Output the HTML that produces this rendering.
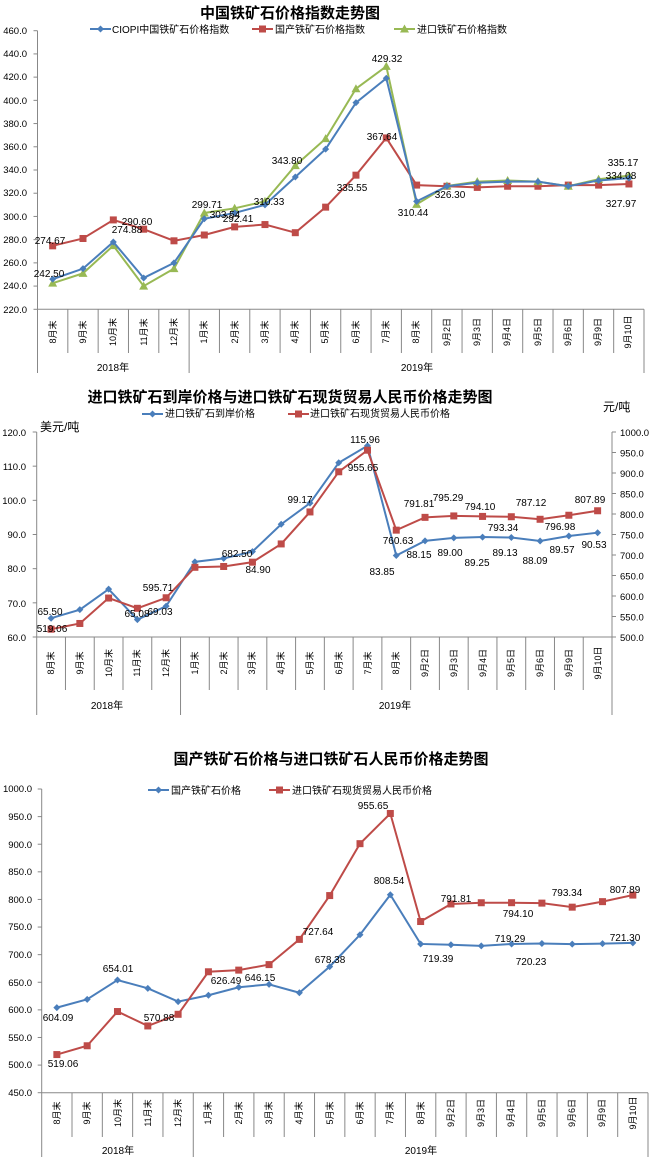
<!DOCTYPE html>
<html><head><meta charset="utf-8"><style>
body{margin:0;background:#fff}
svg{display:block;font-family:"Liberation Sans","Noto Sans CJK SC",sans-serif}
.t{font-weight:bold;font-size:15px;text-anchor:middle}
.lg{font-size:10px}
.yl{font-size:9.5px;text-anchor:end}
.yr{font-size:9.5px;text-anchor:start}
.c text{font-size:9px;text-anchor:middle}
.d{font-size:10px;text-anchor:middle}
.yr2{font-size:10px;text-anchor:middle}
</style></head><body>
<svg id="s" width="650" height="1165" viewBox="0 0 650 1165">
<g id="g"></g>
<!-- Chart 1 -->
<text class="t" x="290" y="18">中国铁矿石价格指数走势图</text>
<text class="lg" x="112" y="33">CIOPI中国铁矿石价格指数</text>
<text class="lg" x="275" y="33">国产铁矿石价格指数</text>
<text class="lg" x="417" y="33">进口铁矿石价格指数</text>
<g class="yl"><text x="27" y="34">460.0</text><text x="27" y="57">440.0</text><text x="27" y="80">420.0</text><text x="27" y="104">400.0</text><text x="27" y="127">380.0</text><text x="27" y="150">360.0</text><text x="27" y="173">340.0</text><text x="27" y="196">320.0</text><text x="27" y="220">300.0</text><text x="27" y="243">280.0</text><text x="27" y="266">260.0</text><text x="27" y="289">240.0</text><text x="27" y="313">220.0</text></g>
<g class="c">
<text transform="translate(56,332) rotate(-90)">8月末</text><text transform="translate(86,332) rotate(-90)">9月末</text><text transform="translate(116,332) rotate(-90)">10月末</text><text transform="translate(147,332) rotate(-90)">11月末</text><text transform="translate(177,332) rotate(-90)">12月末</text><text transform="translate(207,332) rotate(-90)">1月末</text><text transform="translate(238,332) rotate(-90)">2月末</text><text transform="translate(268,332) rotate(-90)">3月末</text><text transform="translate(298,332) rotate(-90)">4月末</text><text transform="translate(328,332) rotate(-90)">5月末</text><text transform="translate(359,332) rotate(-90)">6月末</text><text transform="translate(389,332) rotate(-90)">7月末</text><text transform="translate(419,332) rotate(-90)">8月末</text><text transform="translate(450,332) rotate(-90)">9月2日</text><text transform="translate(480,332) rotate(-90)">9月3日</text><text transform="translate(510,332) rotate(-90)">9月4日</text><text transform="translate(541,332) rotate(-90)">9月5日</text><text transform="translate(571,332) rotate(-90)">9月6日</text><text transform="translate(601,332) rotate(-90)">9月9日</text><text transform="translate(631,332) rotate(-90)">9月10日</text></g>
<text class="yr2" x="113" y="371">2018年</text><text class="yr2" x="417" y="371">2019年</text>
<g class="d">
<text x="50" y="244">274.67</text><text x="49" y="277">242.50</text><text x="137" y="225">290.60</text><text x="127" y="233">274.88</text><text x="207" y="208">299.71</text><text x="225" y="218">303.54</text><text x="238" y="222">292.41</text><text x="269" y="205">310.33</text><text x="287" y="164">343.80</text><text x="352" y="191">335.55</text><text x="382" y="140">367.64</text><text x="387" y="62">429.32</text><text x="413" y="216">310.44</text><text x="450" y="198">326.30</text><text x="623" y="166">335.17</text><text x="621" y="179">334.08</text><text x="621" y="207">327.97</text></g>
<!-- Chart 2 -->
<text class="t" x="290" y="402">进口铁矿石到岸价格与进口铁矿石现货贸易人民币价格走势图</text>
<text class="lg" x="165" y="417">进口铁矿石到岸价格</text>
<text class="lg" x="310" y="417">进口铁矿石现货贸易人民币价格</text>
<text x="40" y="431" style="font-size:12px">美元/吨</text>
<text x="603" y="411" style="font-size:12px">元/吨</text>
<g class="yl"><text x="26" y="436">120.0</text><text x="26" y="470">110.0</text><text x="26" y="504">100.0</text><text x="26" y="538">90.0</text><text x="26" y="572">80.0</text><text x="26" y="607">70.0</text><text x="26" y="641">60.0</text></g>
<g class="yr"><text x="620" y="436">1000.0</text><text x="620" y="456.5">950.0</text><text x="620" y="477">900.0</text><text x="620" y="497.5">850.0</text><text x="620" y="518">800.0</text><text x="620" y="538.5">750.0</text><text x="620" y="559">700.0</text><text x="620" y="579.5">650.0</text><text x="620" y="600">600.0</text><text x="620" y="620.5">550.0</text><text x="620" y="641">500.0</text></g>
<g class="c">
<text transform="translate(54,663) rotate(-90)">8月末</text><text transform="translate(83,663) rotate(-90)">9月末</text><text transform="translate(112,663) rotate(-90)">10月末</text><text transform="translate(140,663) rotate(-90)">11月末</text><text transform="translate(169,663) rotate(-90)">12月末</text><text transform="translate(198,663) rotate(-90)">1月末</text><text transform="translate(227,663) rotate(-90)">2月末</text><text transform="translate(255,663) rotate(-90)">3月末</text><text transform="translate(284,663) rotate(-90)">4月末</text><text transform="translate(313,663) rotate(-90)">5月末</text><text transform="translate(342,663) rotate(-90)">6月末</text><text transform="translate(371,663) rotate(-90)">7月末</text><text transform="translate(399,663) rotate(-90)">8月末</text><text transform="translate(428,663) rotate(-90)">9月2日</text><text transform="translate(457,663) rotate(-90)">9月3日</text><text transform="translate(486,663) rotate(-90)">9月4日</text><text transform="translate(514,663) rotate(-90)">9月5日</text><text transform="translate(543,663) rotate(-90)">9月6日</text><text transform="translate(572,663) rotate(-90)">9月9日</text><text transform="translate(601,663) rotate(-90)">9月10日</text></g>
<text class="yr2" x="107" y="709">2018年</text><text class="yr2" x="395" y="709">2019年</text>
<g class="d">
<text x="50" y="615">65.50</text><text x="52" y="632">519.06</text><text x="137" y="617">65.08</text><text x="160" y="615">69.03</text><text x="158" y="591">595.71</text><text x="237" y="557">682.50</text><text x="258" y="573">84.90</text><text x="300" y="503">99.17</text><text x="365" y="443">115.96</text><text x="363" y="471">955.65</text><text x="398" y="544">760.63</text><text x="382" y="575">83.85</text><text x="419" y="507">791.81</text><text x="419" y="558">88.15</text><text x="448" y="501">795.29</text><text x="450" y="556">89.00</text><text x="480" y="510">794.10</text><text x="477" y="566">89.25</text><text x="503" y="531">793.34</text><text x="505" y="556">89.13</text><text x="531" y="506">787.12</text><text x="535" y="564">88.09</text><text x="560" y="530">796.98</text><text x="562" y="553">89.57</text><text x="590" y="503">807.89</text><text x="594" y="548">90.53</text></g>
<!-- Chart 3 -->
<text class="t" x="331" y="764">国产铁矿石价格与进口铁矿石人民币价格走势图</text>
<text class="lg" x="171" y="794">国产铁矿石价格</text>
<text class="lg" x="292" y="794">进口铁矿石现货贸易人民币价格</text>
<g class="yl"><text x="32" y="792">1000.0</text><text x="32" y="820">950.0</text><text x="32" y="848">900.0</text><text x="32" y="875">850.0</text><text x="32" y="903">800.0</text><text x="32" y="930">750.0</text><text x="32" y="958">700.0</text><text x="32" y="986">650.0</text><text x="32" y="1013">600.0</text><text x="32" y="1041">550.0</text><text x="32" y="1068">500.0</text><text x="32" y="1096">450.0</text></g>
<g class="c">
<text transform="translate(60,1113) rotate(-90)">8月末</text><text transform="translate(90,1113) rotate(-90)">9月末</text><text transform="translate(121,1113) rotate(-90)">10月末</text><text transform="translate(151,1113) rotate(-90)">11月末</text><text transform="translate(181,1113) rotate(-90)">12月末</text><text transform="translate(211,1113) rotate(-90)">1月末</text><text transform="translate(242,1113) rotate(-90)">2月末</text><text transform="translate(272,1113) rotate(-90)">3月末</text><text transform="translate(302,1113) rotate(-90)">4月末</text><text transform="translate(333,1113) rotate(-90)">5月末</text><text transform="translate(363,1113) rotate(-90)">6月末</text><text transform="translate(393,1113) rotate(-90)">7月末</text><text transform="translate(424,1113) rotate(-90)">8月末</text><text transform="translate(454,1113) rotate(-90)">9月2日</text><text transform="translate(484,1113) rotate(-90)">9月3日</text><text transform="translate(514,1113) rotate(-90)">9月4日</text><text transform="translate(545,1113) rotate(-90)">9月5日</text><text transform="translate(575,1113) rotate(-90)">9月6日</text><text transform="translate(605,1113) rotate(-90)">9月9日</text><text transform="translate(636,1113) rotate(-90)">9月10日</text></g>
<text class="yr2" x="118" y="1154">2018年</text><text class="yr2" x="421" y="1154">2019年</text>
<g class="d">
<text x="58" y="1021">604.09</text><text x="63" y="1067">519.06</text><text x="118" y="972">654.01</text><text x="159" y="1021">570.88</text><text x="226" y="984">626.49</text><text x="260" y="981">646.15</text><text x="318" y="935">727.64</text><text x="330" y="963">678.38</text><text x="373" y="809">955.65</text><text x="389" y="884">808.54</text><text x="438" y="962">719.39</text><text x="456" y="902">791.81</text><text x="510" y="942">719.29</text><text x="518" y="917">794.10</text><text x="531" y="965">720.23</text><text x="567" y="896">793.34</text><text x="625" y="941">721.30</text><text x="625" y="893">807.89</text></g>
</svg>
<script>
var NS="http://www.w3.org/2000/svg",G=document.getElementById("g");
function el(n,a){var e=document.createElementNS(NS,n);for(var k in a)e.setAttribute(k,a[k]);G.appendChild(e);return e;}
function ln(x1,y1,x2,y2,c,w){el("line",{x1:x1,y1:y1,x2:x2,y2:y2,stroke:c||"#888",'stroke-width':w||1});}
var BL="#4a7ebb",RD="#be4b48",GR="#98b954";
function mk(t,x,y,c){
 if(t=="d")el("polygon",{points:(x)+","+(y-3.5)+" "+(x+3.5)+","+y+" "+x+","+(y+3.5)+" "+(x-3.5)+","+y,fill:c});
 else if(t=="s")el("rect",{x:x-3.5,y:y-3.5,width:7,height:7,fill:c});
 else el("polygon",{points:x+","+(y-4.5)+" "+(x+4.5)+","+(y+3.5)+" "+(x-4.5)+","+(y+3.5),fill:c});
}
function series(x0,step,y0,vtop,pxu,data,c,t){
 var p=[];data.forEach(function(v,i){p.push([x0+step*(i+.5),y0+(vtop-v)*pxu]);});
 el("polyline",{points:p.map(function(q){return q.join(",")}).join(" "),fill:"none",stroke:c,'stroke-width':2});
 p.forEach(function(q){mk(t,q[0],q[1],c);});
}
function frame(x0,x1,yt,yb,ticks,ycat,yyear,split,right){
 ln(x0,yt,x0,yyear);ln(x0,yb,x1,yb);
 for(var k=0;k<=ticks;k++){var y=yt+(yb-yt)*k/ticks;ln(x0-4,y,x0,y);}
 if(right){for(var k=0;k<=10;k++){var y=yt+(yb-yt)*k/10;ln(x1,y,x1+4,y);}}
 if(right)ln(x1,yt,x1,yyear);
 var st=(x1-x0)/20;
 for(var i=1;i<=20;i++){ln(x0+st*i,yb,x0+st*i,i==5?yyear:(i==20&&!right?yyear:ycat));}
}
function leg(x,y,c,t){ln(x,y,x+21,y,c,2);mk(t,x+10.5,y,c);}
// chart1
frame(37.5,644,30.7,309.3,12,353,373);
var c1b=[246,255,278,247,260,298,303,310,334,358,398,419,313,326,329,330,330,326,331,333];
var c1r=[274.67,281,297,289,279,284,291,293,286,308,335.55,367.64,327,326,325,326,326,327,327,327.97];
var c1g=[242.5,251,274.88,240,255,303,307,313,343.8,367,410,429.32,310.44,326.3,330,331,330,326,332,335.17];
var k1=278.6/240;
series(37.5,30.33,30.7,460,k1,c1r,RD,"s");
series(37.5,30.33,30.7,460,k1,c1g,GR,"t");
series(37.5,30.33,30.7,460,k1,c1b,BL,"d");
leg(90,29,BL,"d");leg(252,29,RD,"s");leg(394,29,GR,"t");
// chart2
frame(36.7,612,432,637,6,690,715,0,true);
var c2b=[65.5,68,74,65.08,69.03,82,83,85,93,99.17,111,115.96,83.85,88.15,89,89.25,89.13,88.09,89.57,90.53];
var c2r=[519.06,533,595,570,595.71,670,672,682.5,727,805,903,955.65,760.63,791.81,795.29,794.1,793.34,787.12,796.98,807.89];
var s2=(612-36.7)/20;
series(36.7,s2,432,120,205/60,c2b,BL,"d");
series(36.7,s2,432,1000,205/500,c2r,RD,"s");
leg(142,414,BL,"d");leg(288,414,RD,"s");
// chart3
frame(41.7,648,789,1092.7,11,1137,1157);
var c3b=[604.09,619,654.01,639,615,626.49,641,646.15,631,678.38,736,808.54,719.39,718,716,719.29,720.23,719,720,721.3];
var c3r=[519.06,535,597,570.88,592,669,672,682,727.64,807,901,955.65,760,791.81,794,794.1,793.34,786,796,807.89];
var s3=(648-41.7)/20,k3=303.7/550;
series(41.7,s3,789,1000,k3,c3b,BL,"d");
series(41.7,s3,789,1000,k3,c3r,RD,"s");
leg(148,790,BL,"d");leg(269,790,RD,"s");
</script>
</body></html>
